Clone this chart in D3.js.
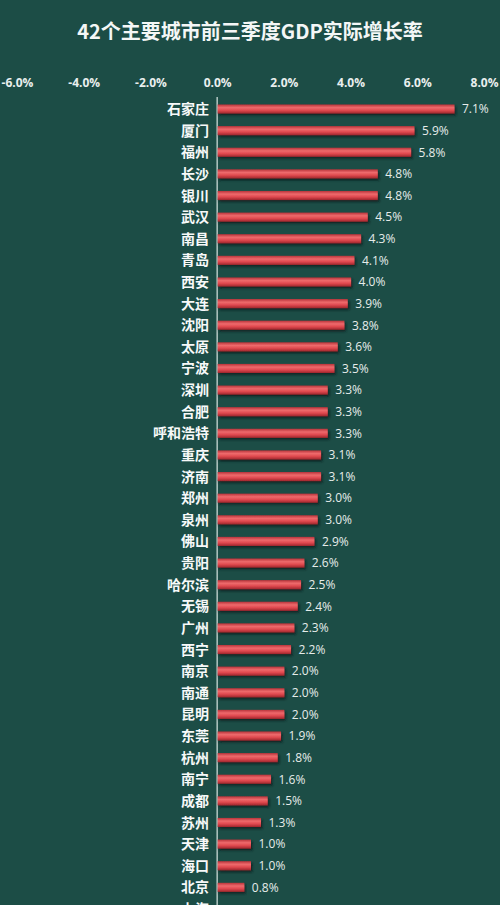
<!DOCTYPE html>
<html><head><meta charset="utf-8">
<script src="https://cdn.jsdelivr.net/npm/d3@7"></script>
<style>
html,body{margin:0;padding:0;background:#1c4d46;overflow:hidden;}
svg{display:block;font-family:"Noto Sans CJK SC","Noto Sans",sans-serif;}
</style></head><body>
<svg id="chart" width="500" height="905"></svg>
<script>
const title = "42个主要城市前三季度GDP实际增长率";
const cities = ["石家庄","厦门","福州","长沙","银川","武汉","南昌","青岛","西安","大连","沈阳","太原","宁波","深圳","合肥","呼和浩特","重庆","济南","郑州","泉州","佛山","贵阳","哈尔滨","无锡","广州","西宁","南京","南通","昆明","东莞","杭州","南宁","成都","苏州","天津","海口","北京","上海"];
const growth = [7.1,5.9,5.8,4.8,4.8,4.5,4.3,4.1,4.0,3.9,3.8,3.6,3.5,3.3,3.3,3.3,3.1,3.1,3.0,3.0,2.9,2.6,2.5,2.4,2.3,2.2,2.0,2.0,2.0,1.9,1.8,1.6,1.5,1.3,1.0,1.0,0.8,-1.4];
const tickValues = [-6,-4,-2,0,2,4,6,8];

const svg = d3.select("#chart");
const W = 500, H = 905;
const step = 21.62;
const x = d3.scaleLinear().domain([-6, 8]).range([17, 484]);
const y = d3.scaleBand().domain(cities).range([98.2, 98.2 + step * cities.length]).paddingInner(0.58).paddingOuter(0.29);
const pct = v => (v < 0 ? "-" : "") + Math.abs(v).toFixed(1) + "%";

svg.append("rect").attr("width", W).attr("height", H).attr("fill", "#1c4d46");

const defs = svg.append("defs");
const g = defs.append("linearGradient").attr("id","barGrad").attr("x1",0).attr("y1",0).attr("x2",0).attr("y2",1);
g.append("stop").attr("offset","0%").attr("stop-color","#b8333a");
g.append("stop").attr("offset","35%").attr("stop-color","#ee6a6c");
g.append("stop").attr("offset","65%").attr("stop-color","#e0494f");
g.append("stop").attr("offset","100%").attr("stop-color","#9e262d");
const f = defs.append("filter").attr("id","shadow").attr("x","-5%").attr("y","-50%").attr("width","115%").attr("height","250%");
f.append("feDropShadow").attr("dx",1.5).attr("dy",2).attr("stdDeviation",1).attr("flood-color","#0a1f1c").attr("flood-opacity",0.85);
defs.append("clipPath").attr("id","plotClip").append("rect").attr("x",0).attr("y",0).attr("width",W).attr("height",H-2);

svg.append("text").attr("x", 250).attr("y", 39).attr("text-anchor","middle")
  .attr("fill","#f4f7f6").attr("font-size",20).attr("font-weight","bold").text(title);

// top axis
const axis = d3.axisTop(x).tickValues(tickValues).tickFormat(pct).tickSize(0).tickPadding(0);
const ax = svg.append("g").attr("transform","translate(0,87)").call(axis);
ax.select(".domain").remove();
ax.selectAll("text").attr("fill","#e9efee").attr("font-size",12).attr("font-weight","bold")
  .attr("font-family","'Open Sans','DejaVu Sans',sans-serif");

// zero line
svg.append("line").attr("x1", x(0)).attr("x2", x(0)).attr("y1", 97).attr("y2", H)
  .attr("stroke","#d8e6e2").attr("stroke-width",1.2);

const rows = svg.append("g").selectAll("g").data(cities).join("g");
rows.append("rect")
  .attr("clip-path","url(#plotClip)")
  .attr("x", (d,i) => Math.min(x(0), x(growth[i])) + 0.5)
  .attr("y", d => y(d))
  .attr("width", (d,i) => Math.abs(x(growth[i]) - x(0)))
  .attr("height", y.bandwidth())
  .attr("fill","url(#barGrad)")
  .attr("filter","url(#shadow)")
  .attr("opacity", (d,i) => y(d) > H - 4 ? 0 : 1);
rows.append("text")
  .attr("x", 209).attr("y", d => y(d) + y.bandwidth()/2)
  .attr("dy","0.36em").attr("text-anchor","end")
  .attr("fill","#f7f9f9").attr("font-size",14).attr("font-weight","bold").text(d => d);
rows.append("text")
  .attr("x", (d,i) => x(growth[i]) + 8).attr("y", d => y(d) + y.bandwidth()/2)
  .attr("dy","0.36em")
  .attr("fill","#e6ecea").attr("font-size",12)
  .attr("font-family","'Open Sans','DejaVu Sans',sans-serif")
  .text((d,i) => growth[i] >= 0 ? pct(growth[i]) : "");
</script></body></html>
